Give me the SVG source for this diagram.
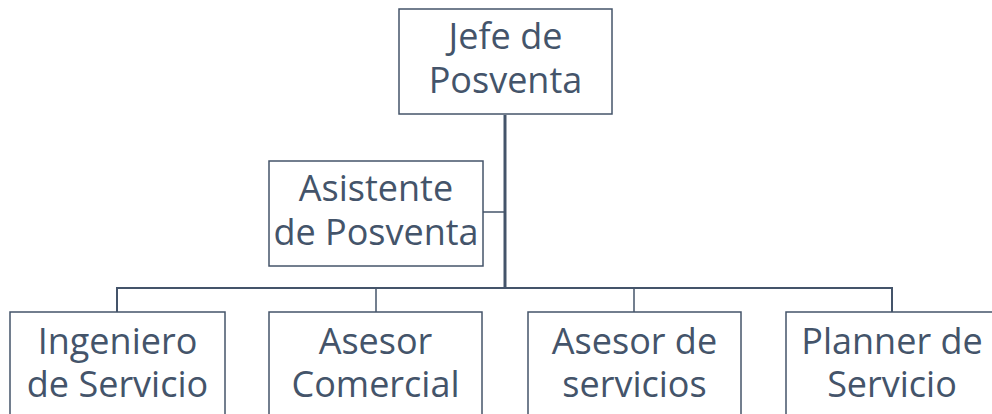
<svg xmlns="http://www.w3.org/2000/svg" width="992" height="414" viewBox="0 0 992 414">
<style>
.box{fill:#fff;stroke:#44546A;stroke-width:1.5}
.t{font-family:"Open Sans","Noto Sans",sans-serif;font-size:36px;fill:#44546A;text-anchor:middle}
.c{stroke:#44546A;fill:none}
</style>
<rect width="992" height="414" fill="#fff"/>
<g id="connectors">
<line class="c" x1="505" y1="115" x2="505" y2="289" stroke-width="3"/>
<line class="c" x1="483" y1="212" x2="505" y2="212" stroke-width="1.5"/>
<polyline class="c" points="117,312 117,288 892,288 892,312" stroke-width="2"/>
<line class="c" x1="376" y1="288" x2="376" y2="312" stroke-width="1.5"/>
<line class="c" x1="634" y1="288" x2="634" y2="312" stroke-width="1.5"/>
</g>
<g id="jefe">
<rect class="box" x="399" y="9" width="213" height="105"/>
<text class="t" x="505.5" y="49">Jefe de</text>
<text class="t" x="505.5" y="93">Posventa</text>
</g>
<g id="asistente">
<rect class="box" x="269" y="161" width="214" height="105"/>
<text class="t" x="376" y="201">Asistente</text>
<text class="t" x="376" y="245">de Posventa</text>
</g>
<g id="ingeniero">
<rect class="box" x="10" y="312" width="215" height="105"/>
<text class="t" x="117.5" y="354">Ingeniero</text>
<text class="t" x="117.5" y="397">de Servicio</text>
</g>
<g id="asesor-comercial">
<rect class="box" x="269" y="312" width="213" height="105"/>
<text class="t" x="375.5" y="354">Asesor</text>
<text class="t" x="375.5" y="397">Comercial</text>
</g>
<g id="asesor-servicios">
<rect class="box" x="528" y="312" width="213" height="105"/>
<text class="t" x="634.5" y="354">Asesor de</text>
<text class="t" x="634.5" y="397">servicios</text>
</g>
<g id="planner">
<rect class="box" x="786" y="312" width="213" height="105"/>
<text class="t" x="892" y="354">Planner de</text>
<text class="t" x="892" y="397">Servicio</text>
</g>
</svg>
